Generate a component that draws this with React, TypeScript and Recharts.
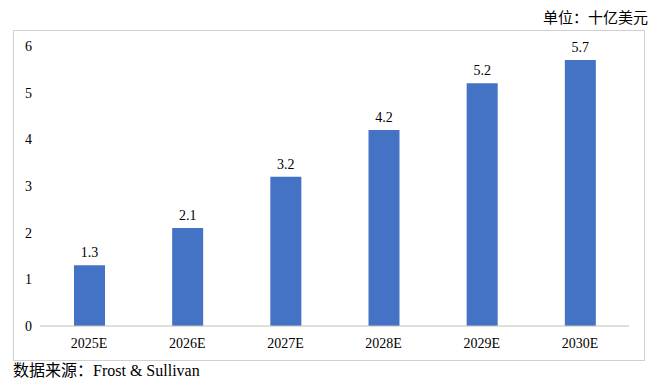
import { BarChart, Bar, XAxis, YAxis, LabelList } from 'recharts'

const years = ['2025E', '2026E', '2027E', '2028E', '2029E', '2030E']
const marketSize = [1.3, 2.1, 3.2, 4.2, 5.2, 5.7]
const yTicks = [0, 1, 2, 3, 4, 5, 6]

const chartData = years.map((name, i) => ({ name, value: marketSize[i] }))

const fontStack = '"Liberation Serif", "Noto Sans CJK SC", serif'

const App = () => {
  return (
    <div style={{ position: 'relative', width: 641, height: 372, fontFamily: fontStack, color: '#000' }}>
      <div style={{ position: 'absolute', right: 1, top: 3, fontSize: 15, lineHeight: 1 }}>单位：十亿美元</div>
      <div style={{ position: 'absolute', left: 5, top: 22, width: 630, height: 329, border: '1px solid #d0d0d0' }}>
        <BarChart
          width={630}
          height={329}
          data={chartData}
          margin={{ top: 15, right: 15, left: 0, bottom: 4 }}
          barSize={31}
        >
          <XAxis
            dataKey="name"
            axisLine={{ stroke: '#bfbfbf' }}
            tickLine={false}
            tickMargin={6}
            height={30}
            tick={{ fill: '#000', fontSize: 14, fontFamily: fontStack }}
          />
          <YAxis
            domain={[0, 6]}
            ticks={yTicks}
            axisLine={false}
            tickLine={false}
            width={26}
            tickMargin={2}
            tick={{ fill: '#000', fontSize: 14, fontFamily: fontStack }}
          />
          <Bar dataKey="value" fill="#4472C4" isAnimationActive={false}>
            <LabelList dataKey="value" position="top" offset={8} fill="#000" fontSize={14} fontFamily={fontStack} />
          </Bar>
        </BarChart>
      </div>
      <div style={{ position: 'absolute', left: 5, top: 355, fontSize: 16, lineHeight: 1 }}>数据来源：Frost &amp; Sullivan</div>
    </div>
  )
}

export default App
